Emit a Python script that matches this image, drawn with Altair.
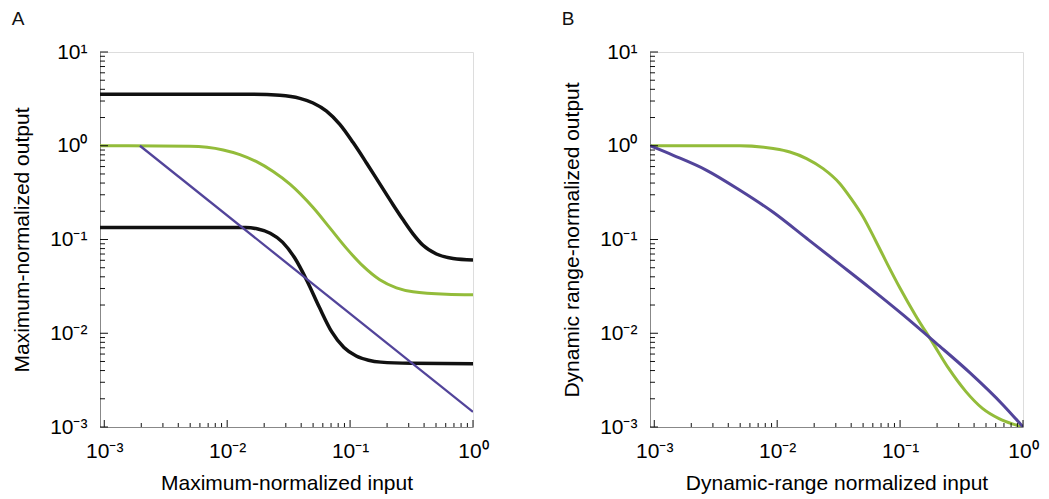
import altair as alt
import pandas as pd

# ---------------- Panel A data ----------------
A_BLACK_HI_X = [0.000923, 0.015, 0.0268, 0.039, 0.050, 0.0643, 0.0825, 0.1058, 0.136, 0.174, 0.2237, 0.27, 0.325, 0.392, 0.504, 0.688, 1.0]
A_BLACK_HI_Y = [3.55, 3.55, 3.45, 3.2, 2.86, 2.34, 1.69, 1.08, 0.655, 0.394, 0.235, 0.162, 0.115, 0.0867, 0.070, 0.0628, 0.0605]

A_GREEN_X = [0.000923, 0.00498, 0.00928, 0.01268, 0.01734, 0.02366, 0.0324, 0.05, 0.0684, 0.0935, 0.1276, 0.1743, 0.2383, 0.325, 0.608, 1.0]
A_GREEN_Y = [1.0, 0.986, 0.902, 0.804, 0.676, 0.531, 0.389, 0.219, 0.133, 0.0804, 0.0519, 0.0372, 0.0305, 0.0277, 0.0261, 0.0258]

A_BLACK_LO_X = [0.000923, 0.01413, 0.01778, 0.02239, 0.02818, 0.03548, 0.04467, 0.05623, 0.07079, 0.08913, 0.1122, 0.1413, 0.1778, 0.3162, 1.0]
A_BLACK_LO_Y = [0.134, 0.134, 0.1294, 0.1167, 0.0938, 0.0634, 0.0361, 0.0189, 0.0104, 0.00703, 0.00571, 0.00515, 0.00492, 0.00479, 0.00474]

A_PURPLE_X = [0.00195, 1.0]
A_PURPLE_Y = [1.0, 0.00145]

# ---------------- Panel B data ----------------
B_GREEN_X = [0.000923, 0.00498, 0.00928, 0.01268, 0.01734, 0.02366, 0.0324, 0.0398, 0.0501, 0.0631, 0.0794, 0.1, 0.134, 0.1834, 0.25, 0.342, 0.4677, 0.638, 0.82, 1.0]
B_GREEN_Y = [1.0, 1.0, 0.933, 0.858, 0.73, 0.57, 0.394, 0.275, 0.174, 0.0977, 0.0537, 0.0302, 0.0154, 0.008, 0.00416, 0.0024, 0.00158, 0.00123, 0.00108, 0.001]

B_PURPLE_X = [0.000923, 0.001427, 0.002667, 0.00498, 0.00928, 0.01734, 0.0324, 0.0567, 0.1058, 0.195, 0.369, 0.688, 1.0]
B_PURPLE_Y = [1.0, 0.79, 0.547, 0.335, 0.195, 0.103, 0.0543, 0.0305, 0.0157, 0.0079, 0.0038, 0.00172, 0.001]

# ---------------- axis ticks ----------------
X_MAJOR = [0.001, 0.01, 0.1, 1.0]
Y_MAJOR = [0.001, 0.01, 0.1, 1.0, 10.0]
MULTS = [2, 3, 4, 5, 6, 7, 8, 9]
X_MINOR = [m * d for d in [0.001, 0.01, 0.1] for m in MULTS]
Y_MINOR = [m * d for d in [0.001, 0.01, 0.1, 1.0] for m in MULTS]

XMIN = 0.000923
W, H = 373, 375
FONT = "Liberation Sans"
BLACK = "#111111"
GREEN = "#93BC3A"
PURPLE = "#52449A"

LABEL_EXPR = (
    "round(log(datum.value)/LN10) == 1 ? '10¹' : "
    "round(log(datum.value)/LN10) == 0 ? '10⁰' : "
    "round(log(datum.value)/LN10) == -1 ? '10⁻¹' : "
    "round(log(datum.value)/LN10) == -2 ? '10⁻²' : '10⁻³'"
)


def line_df(xs, ys, name):
    return pd.DataFrame({"x": xs, "y": ys, "s": name})


def panel(series, xtitle, ytitle, letter):
    xs = alt.Scale(type="log", domain=[XMIN, 1.0], nice=False)
    ys = alt.Scale(type="log", domain=[0.001, 10.0], nice=False)
    xaxis = alt.Axis(values=X_MAJOR, labelExpr=LABEL_EXPR, ticks=False, grid=False,
                     labelFontSize=21, labelPadding=13, titleFontSize=21,
                     titlePadding=11, title=xtitle, labelFlush=False,
                     titleFontWeight="normal", labelFont=FONT, titleFont=FONT)
    yaxis = alt.Axis(values=Y_MAJOR, labelExpr=LABEL_EXPR, ticks=False, grid=False,
                     labelFontSize=21, labelPadding=13, titleFontSize=21,
                     titlePadding=17, title=ytitle, labelFlush=False,
                     titleFontWeight="normal", labelFont=FONT, titleFont=FONT)

    layers = []
    for xv, yv, name, color, width in series:
        df = line_df(xv, yv, name)
        layers.append(
            alt.Chart(df).mark_line(color=color, strokeWidth=width, interpolate="monotone",
                                    clip=True)
            .encode(x=alt.X("x:Q", scale=xs, axis=xaxis),
                    y=alt.Y("y:Q", scale=ys, axis=yaxis))
        )

    def xticks(vals, length):
        return alt.Chart(pd.DataFrame({"t": vals})).mark_rule(color=BLACK, strokeWidth=1).encode(
            x=alt.X("t:Q", scale=xs, axis=xaxis), y=alt.value(H), y2=alt.value(H - length))

    def yticks(vals, length):
        return alt.Chart(pd.DataFrame({"t": vals})).mark_rule(color=BLACK, strokeWidth=1).encode(
            y=alt.Y("t:Q", scale=ys, axis=yaxis), x=alt.value(0), x2=alt.value(length))

    layers += [xticks(X_MAJOR, 7), xticks(X_MINOR, 4), yticks(Y_MAJOR, 8), yticks(Y_MINOR, 5)]

    return alt.layer(*layers).properties(
        width=W, height=H,
        title=alt.Title(letter, anchor="start", fontSize=19, font=FONT,
                        fontWeight="normal", offset=12, color=BLACK),
    )


panel_a = panel(
    [
        (A_BLACK_HI_X, A_BLACK_HI_Y, "hi", BLACK, 3.5),
        (A_GREEN_X, A_GREEN_Y, "green", GREEN, 3),
        (A_BLACK_LO_X, A_BLACK_LO_Y, "lo", BLACK, 3.5),
        (A_PURPLE_X, A_PURPLE_Y, "purple", PURPLE, 2.3),
    ],
    "Maximum-normalized input", "Maximum-normalized output", "A",
)

panel_b = panel(
    [
        (B_GREEN_X, B_GREEN_Y, "green", GREEN, 3),
        (B_PURPLE_X, B_PURPLE_Y, "purple", PURPLE, 3),
    ],
    "Dynamic-range normalized input", "Dynamic range-normalized output", "B",
)

chart = alt.hconcat(panel_a, panel_b, spacing=177, bounds="flush").properties(
    padding={"left": 11, "top": 9, "right": 3, "bottom": 2}
).configure_view(
    stroke="#555555", strokeWidth=1
).configure_axis(
    domainColor=BLACK, domainWidth=1.5, labelColor=BLACK, titleColor=BLACK,
    labelFont=FONT, titleFont=FONT, titleFontWeight="normal"
).configure(background="white")

chart.save("out.html", embed_options={"renderer": "svg", "actions": False})
